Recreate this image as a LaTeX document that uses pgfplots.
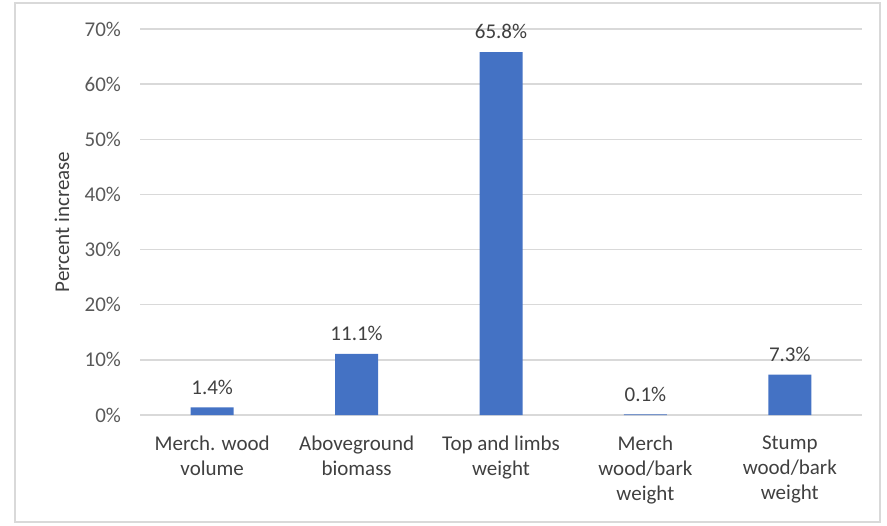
\documentclass[border=0pt]{standalone}
\usepackage{fontspec}
\setmainfont{Carlito}
\usepackage{pgfplots}
\pgfplotsset{compat=1.18}
\definecolor{barblue}{HTML}{4472C4}
\definecolor{gridgray}{HTML}{D9D9D9}
\definecolor{txtgray}{HTML}{595959}
\definecolor{lbl}{HTML}{404040}
\begin{document}
\begin{tikzpicture}
\useasboundingbox (0,0) rectangle (443.5pt,262.5pt);
\draw[gridgray, line width=0.75pt] (7.5pt,1.5pt) rectangle (440pt,261pt);
\begin{axis}[
  at={(70pt,55pt)}, anchor=south west,
  scale only axis, width=361pt, height=193pt,
  xmin=-0.5, xmax=4.5, ymin=0, ymax=70,
  axis lines=left, axis line style={draw=none},
  /pgf/number format/assume math mode=true,
  ytick={0,10,...,70},
  ymajorgrids, grid style={gridgray, line width=0.75pt},
  yticklabel={\pgfmathprintnumber{\tick}\%},
  yticklabel style={font=\fontsize{10.5}{12.5}\selectfont, text=txtgray, anchor=east, xshift=-6pt},
  xtick=data,
  xticklabels={{Merch. wood\\volume},{Aboveground\\biomass},{Top and limbs\\weight},{Merch\\wood/bark\\weight},{Stump\\wood/bark\\weight}},
  xticklabel style={font=\fontsize{10.5}{12.5}\selectfont, text=lbl, align=center, anchor=north, yshift=-7pt},
  major tick length=0pt, tick style={draw=none},
  ylabel={Percent increase},
  ylabel style={font=\fontsize{10.5}{12.5}\selectfont, text=lbl, at={(axis description cs:-0.108,0.5)}, anchor=center},
  ybar, bar width=21.5pt,
  nodes near coords={\pgfmathprintnumber[fixed,fixed zerofill,precision=1]{\pgfplotspointmeta}\%},
  nodes near coords style={font=\fontsize{10.5}{12.5}\selectfont, text=lbl, anchor=south, yshift=3pt},
  clip=false,
]
\addplot[fill=barblue, draw=none] coordinates {(0,1.4) (1,11.1) (2,65.8) (3,0.1) (4,7.3)};
\end{axis}
\end{tikzpicture}
\end{document}
